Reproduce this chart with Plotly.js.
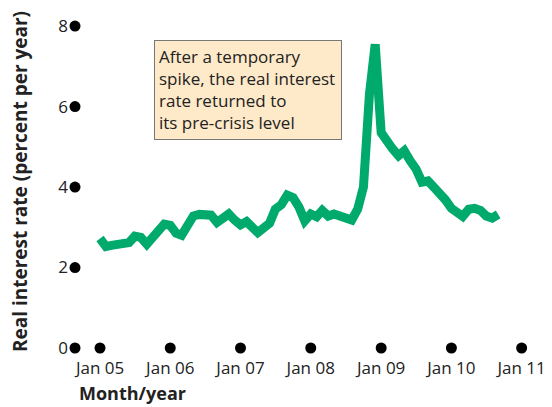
<!DOCTYPE html>
<html>
<head>
<meta charset="utf-8">
<script src="https://cdn.plot.ly/plotly-3.0.1.min.js"></script>
<style>html,body{margin:0;padding:0;background:#fff;}#chart{width:552px;height:407px;}</style>
</head>
<body>
<div id="chart"></div>
<script>
const months = [
 '2005-01','2005-02','2005-03','2005-04','2005-05','2005-06','2005-07','2005-08','2005-09','2005-10','2005-11','2005-12',
 '2006-01','2006-02','2006-03','2006-04','2006-05','2006-06','2006-07','2006-08','2006-09','2006-10','2006-11','2006-12',
 '2007-01','2007-02','2007-03','2007-04','2007-05','2007-06','2007-07','2007-08','2007-09','2007-10','2007-11','2007-12',
 '2008-01','2008-02','2008-03','2008-04','2008-05','2008-06','2008-07','2008-08','2008-09','2008-10','2008-11','2008-12',
 '2009-01','2009-02','2009-03','2009-04','2009-05','2009-06','2009-07','2009-08','2009-09','2009-10','2009-11','2009-12',
 '2010-01','2010-02','2010-03','2010-04','2010-05','2010-06','2010-07','2010-08','2010-09'
];
const realRate = [
 2.72,2.52,2.55,2.58,2.60,2.62,2.78,2.75,2.58,2.72,2.90,3.08,
 3.05,2.85,2.80,3.10,3.28,3.32,3.33,3.30,3.12,3.22,3.33,3.18,
 3.06,3.14,3.00,2.87,2.98,3.10,3.45,3.56,3.80,3.74,3.50,3.16,
 3.33,3.26,3.42,3.28,3.33,3.28,3.20,3.18,3.45,4.00,6.30,7.55,
 5.35,5.10,4.95,4.78,4.90,4.65,4.45,4.12,4.15,4.00,3.85,3.68,
 3.47,3.38,3.27,3.45,3.47,3.42,3.28,3.23,3.32
];
const xTickVals = ['2005-01-01','2006-01-01','2007-01-01','2008-01-01','2009-01-01','2010-01-01','2011-01-01'];
const xTickText = ['Jan 05','Jan 06','Jan 07','Jan 08','Jan 09','Jan 10','Jan 11'];
const yTickVals = [0,2,4,6,8];
const yTickText = ['0','2','4','6','8'];
const xRange = ['2004-08-24','2011-03-01'];
const yRange = [0,8.3];

const font = 'Open Sans, Noto Sans, sans-serif';

const traces = [
  {
    x: months, y: realRate, type: 'scatter', mode: 'lines',
    line: {color: '#00aa6c', width: 9, shape: 'linear'},
    hoverinfo: 'skip', showlegend: false
  },
  {
    x: yTickVals.map(() => xRange[0]), y: yTickVals, type: 'scatter', mode: 'markers',
    marker: {color: '#000', size: 11}, cliponaxis: false, showlegend: false, hoverinfo: 'skip'
  },
  {
    x: xTickVals, y: xTickVals.map(() => yRange[0]), type: 'scatter', mode: 'markers',
    marker: {color: '#000', size: 11}, cliponaxis: false, showlegend: false, hoverinfo: 'skip'
  }
];

const layout = {
  width: 552, height: 407,
  margin: {l: 75, r: 19, t: 14, b: 59},
  paper_bgcolor: '#fff', plot_bgcolor: '#fff',
  font: {family: font, color: '#222', size: 17},
  showlegend: false,
  xaxis: {
    type: 'date', range: xRange, tickvals: xTickVals, ticktext: xTickText,
    showgrid: false, zeroline: false, showline: false, ticks: '',
    ticklabelstandoff: 8,
    tickfont: {family: font, size: 17, color: '#222'}
  },
  yaxis: {
    range: yRange, tickvals: yTickVals, ticktext: yTickText,
    showgrid: false, zeroline: false, showline: false, ticks: '',
    ticklabelstandoff: 6,
    tickfont: {family: font, size: 17, color: '#222'}
  },
  annotations: [
    {
      xref: 'paper', yref: 'paper', x: 0.1725, y: 0.922, xanchor: 'left', yanchor: 'top',
      text: 'After a temporary<br>spike, the real interest<br>rate returned to<br>its pre-crisis level',
      align: 'left', valign: 'top', showarrow: false,
      width: 178, height: 90, borderpad: 4,
      bgcolor: '#fee9c9', bordercolor: '#777', borderwidth: 1,
      font: {family: font, size: 17, color: '#222'}
    },
    {
      xref: 'paper', yref: 'paper', x: -0.12, y: 0.497, xanchor: 'center', yanchor: 'middle',
      text: '<b>Real interest rate (percent per year)</b>', textangle: -90, showarrow: false,
      font: {family: font, size: 19, color: '#222'}
    },
    {
      xref: 'paper', yref: 'paper', x: 0.004, y: -0.176, xanchor: 'left', yanchor: 'bottom',
      text: '<b>Month/year</b>', showarrow: false,
      font: {family: font, size: 18, color: '#222'}
    }
  ]
};

Plotly.newPlot('chart', traces, layout, {displayModeBar: false, staticPlot: true});
</script>
</body>
</html>
